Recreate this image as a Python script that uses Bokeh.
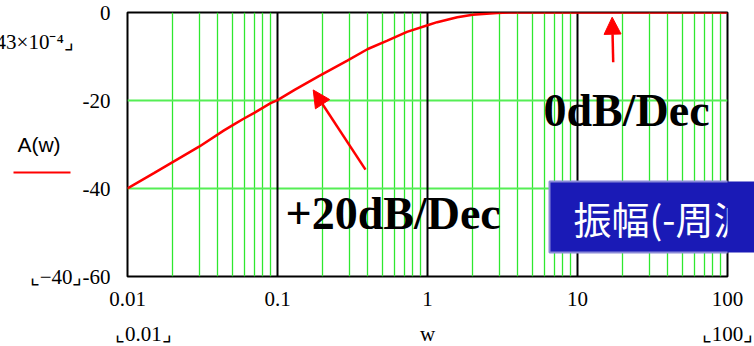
from bokeh.plotting import figure
from bokeh.models import FixedTicker, Grid, Label, Arrow, NormalHead, LinearAxis
from bokeh.embed import file_html
from bokeh.resources import INLINE

# ---- data ----
w = [0.01, 0.015, 0.02, 0.03, 0.044, 0.052, 0.059, 0.07, 0.09, 0.1, 0.13, 0.19,
     0.29, 0.4, 0.54, 0.73, 1.0, 1.16, 1.58, 2.0, 2.9, 3.5, 10, 100]
A = [-40.0, -36.5, -34.0, -30.5, -26.8, -25.3, -24.2, -22.8, -20.6, -19.9, -17.6, -14.4,
     -11.0, -8.3, -6.4, -4.4, -2.9, -2.2, -1.1, -0.5, -0.1, 0.0, 0.0, 0.0]

NB = "\u00a0"
x_ticks = [0.01, 0.1, 1, 10, 100]
x_tick_labels = ["0.01\n" + NB * 6 + "⌞0.01⌟", "0.1", "1\nw", "10", "100\n⌞100⌟"]
y_ticks = [-60, -40, -20, -6.8, 0]
y_tick_labels = ["⌞−40⌟-60", "-40", "-20", "43×10⁻⁴⌟" + NB * 7, "0"]
x_minor = [k * 10.0 ** e for e in range(-2, 2) for k in range(2, 10)]
x_major_grid = [0.1, 1, 10]
y_grid = [-40, -20]

SERIF = "Liberation Serif"
SANS = "Liberation Sans"

p = figure(x_axis_type="log", x_range=(0.01, 100), y_range=(-60, 0),
           frame_width=600, frame_height=264,
           min_border_left=127, min_border_right=27, min_border_top=12, min_border_bottom=70,
           output_backend="svg", toolbar_location=None,
           background_fill_color="white", border_fill_color="white")

p.outline_line_color = "black"
p.outline_line_width = 2

# grids
p.xgrid[0].ticker = FixedTicker(ticks=x_minor)
p.xgrid[0].grid_line_color = "#2ee82e"
p.xgrid[0].grid_line_width = 1.3
p.ygrid[0].ticker = FixedTicker(ticks=y_grid)
p.ygrid[0].grid_line_color = "#55ee55"
p.ygrid[0].grid_line_width = 2
p.add_layout(Grid(dimension=0, ticker=FixedTicker(ticks=x_major_grid),
                  grid_line_color="black", grid_line_width=2))

# axes
for ax in (p.xaxis[0], p.yaxis[0]):
    ax.axis_line_color = None
    ax.major_tick_line_color = None
    ax.minor_tick_line_color = None
    ax.major_label_text_font = SERIF
    ax.major_label_text_font_size = "21px"
    ax.major_label_text_color = "black"
    ax.axis_label_text_font = SANS
    ax.axis_label_text_font_style = "normal"
    ax.axis_label_text_color = "black"

xa = p.xaxis[0]
xa.ticker = FixedTicker(ticks=x_ticks)
xa.major_label_overrides = dict(zip(x_ticks, x_tick_labels))
xa.major_label_standoff = 4
xa.major_label_text_line_height = 1.48

ya = p.yaxis[0]
ya.ticker = FixedTicker(ticks=y_ticks)
ya.major_label_overrides = dict(zip(y_ticks, y_tick_labels))
ya.major_label_standoff = 11
ya.axis_label = "A(w)"
ya.axis_label_text_font_size = "21px"
ya.axis_label_orientation = "horizontal"
ya.axis_label_standoff = -68

# red legend stroke under A(w), drawn as the tick of a bare outer axis
red_axis = LinearAxis(ticker=FixedTicker(ticks=[-36.4]), major_label_overrides={-36.4: ""},
                      major_tick_in=56, major_tick_out=1, major_tick_line_color="red",
                      major_tick_line_width=2, axis_line_color=None,
                      minor_tick_line_color=None, major_label_text_font_size="0px")
p.add_layout(red_axis, "left")

# blue strip continuing the caption box past the frame edge
strip_axis = LinearAxis(bounds=(-54.5, -38.4), ticker=FixedTicker(ticks=[-46.5]),
                        major_label_overrides={-46.5: ""}, axis_line_color="#1a1ab6",
                        axis_line_width=54, major_tick_line_color=None,
                        minor_tick_line_color=None, major_label_text_font_size="0px")
p.add_layout(strip_axis, "right")

# curve
p.line(w, A, line_color="red", line_width=2.5)

# arrows
p.add_layout(Arrow(end=NormalHead(size=17, fill_color="red", line_color="red"),
                   x_start=0.386, y_start=-35.7, x_end=0.173, y_end=-17.6,
                   line_color="red", line_width=2.5))
p.add_layout(Arrow(end=NormalHead(size=17, fill_color="red", line_color="red"),
                   x_start=17.3, y_start=-11.3, x_end=17.03, y_end=-1.07,
                   line_color="red", line_width=2.5))

# big annotations
p.add_layout(Label(x=0.113, y=-45.7, text="+20dB/Dec", text_font=SERIF,
                   text_font_style="bold", text_font_size="46px", text_color="black",
                   text_baseline="alphabetic"))
p.add_layout(Label(x=5.93, y=-22.3, text="0dB/Dec", text_font=SERIF,
                   text_font_style="bold", text_font_size="46px", text_color="black",
                   text_baseline="alphabetic"))
p.add_layout(Label(x=422, y=59.5, x_units="screen", y_units="screen", text="振幅(-周波",
                   text_font="Noto Sans CJK JP", text_font_size="38px", text_color="white",
                   text_baseline="middle", background_fill_color="#1a1ab6",
                   border_line_color="#8a8ad8", border_line_width=2,
                   padding=dict(left=24, right=80, top=8, bottom=8)))

open("out.html", "w").write(file_html(p, INLINE))
